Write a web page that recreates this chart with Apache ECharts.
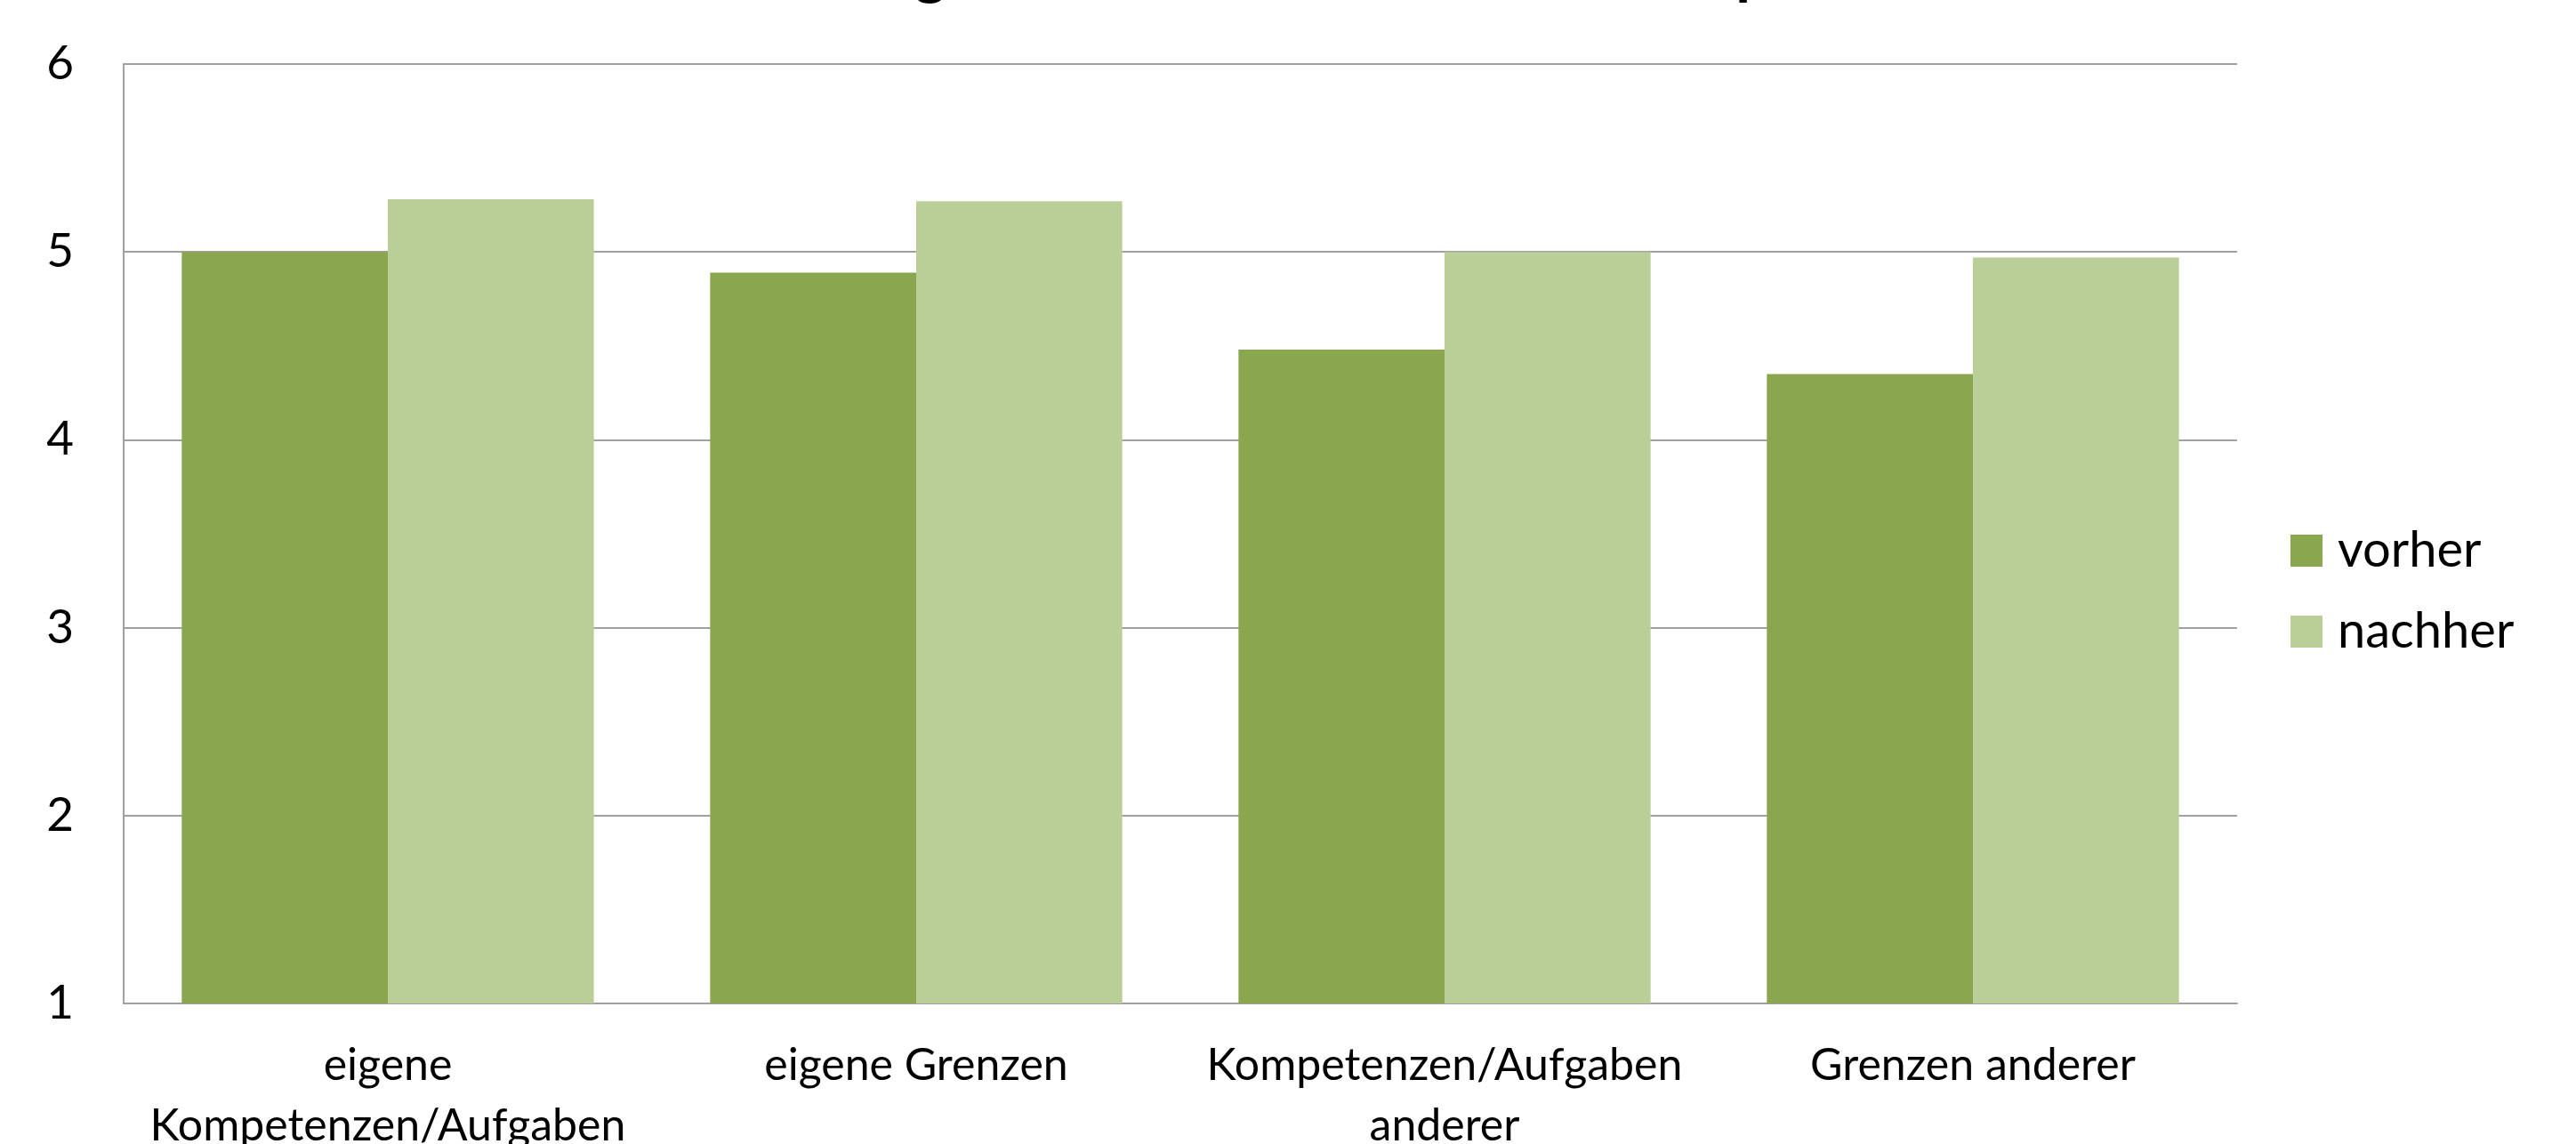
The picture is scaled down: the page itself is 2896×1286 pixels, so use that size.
<!DOCTYPE html>
<html><head><meta charset="utf-8">
<script src="https://cdn.jsdelivr.net/npm/echarts@6/dist/echarts.min.js"></script>
<style>html,body{margin:0;padding:0;background:#fff}#c{width:2896px;height:1286px}</style>
</head><body><div id="c"></div>
<script>
const titleText = 'Einschätzung der Kenntnisse über die Kompetenzen';
const categories = ['eigene\nKompetenzen/Aufgaben', 'eigene Grenzen', 'Kompetenzen/Aufgaben\nanderer', 'Grenzen anderer'];
const seriesNames = ['vorher', 'nachher'];
const vorher = [5.0, 4.89, 4.48, 4.35];
const nachher = [5.28, 5.27, 5.0, 4.97];
const yTicks = [1, 2, 3, 4, 5, 6];

const font = 'Lato, "Open Sans", sans-serif';
const chart = echarts.init(document.getElementById('c'), null, {renderer: 'canvas'});
chart.setOption({
  animation: false,
  backgroundColor: '#ffffff',
  title: {
    text: titleText, left: 'center', top: -70,
    textStyle: {fontFamily: font, fontWeight: 'bold', fontSize: 68, color: '#000'}
  },
  grid: {left: 139, right: 381, top: 72, bottom: 158, containLabel: false, outerBoundsMode: 'none'},
  legend: {
    orient: 'vertical', left: 2570, top: 586,
    itemWidth: 36, itemHeight: 36, itemGap: 35,
    icon: 'rect',
    textStyle: {fontFamily: font, fontSize: 56, color: '#000', padding: [0, 0, 0, 12]},
    data: seriesNames
  },
  xAxis: {
    type: 'category', data: categories,
    axisLine: {show: true, lineStyle: {color: '#a0a0a0', width: 2}},
    axisTick: {show: false},
    axisLabel: {fontFamily: font, fontSize: 50, color: '#000', margin: 36, lineHeight: 68, interval: 0}
  },
  yAxis: {
    type: 'value', min: yTicks[0], max: yTicks[yTicks.length - 1], interval: 1,
    axisLine: {show: true, lineStyle: {color: '#a0a0a0', width: 2}},
    axisTick: {show: false},
    axisLabel: {fontFamily: font, fontSize: 53, color: '#000', margin: 56},
    splitLine: {show: true, lineStyle: {color: '#a0a0a0', width: 2}}
  },
  series: [
    {name: seriesNames[0], type: 'bar', data: vorher, barGap: '0%', barCategoryGap: '22%',
     itemStyle: {color: '#8aa64f'}},
    {name: seriesNames[1], type: 'bar', data: nachher, barGap: '0%', barCategoryGap: '22%',
     itemStyle: {color: '#bacf98'}}
  ]
});
</script></body></html>
